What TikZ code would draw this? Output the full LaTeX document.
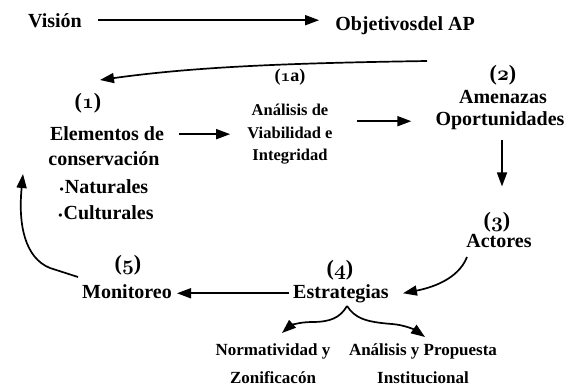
\documentclass[tikz,border=0pt]{standalone}
\usepackage{fontspec}
\setmainfont{Liberation Serif}
\usetikzlibrary{arrows.meta}
\newcommand{\osn}[1]{{\usefont{OML}{cmm}{b}{it}#1}}
\newcommand{\bul}{{\fontsize{12}{12}\selectfont\textbullet}\hspace{1pt}}
\tikzset{
  lbl/.style={inner sep=0pt, anchor=base, font=\bfseries\fontsize{20}{24}\selectfont},
  num/.style={inner sep=0pt, anchor=base, font=\bfseries\fontsize{22}{24}\selectfont},
  sml/.style={inner sep=0pt, anchor=base, font=\bfseries\fontsize{16.5}{20}\selectfont},
  bot/.style={inner sep=0pt, anchor=base, font=\bfseries\fontsize{17}{20}\selectfont},
  conn/.style={line width=1.7pt, -{Triangle[length=14pt,width=10pt]}},
}
\begin{document}
\begin{tikzpicture}[x=1pt,y=-1pt]
\useasboundingbox (0,0) rectangle (567,391);
\node[lbl] (vis) at (55,27) {Visión};
\node[lbl] (obj) at (405,30) {Objetivosdel AP};
\node[sml, font=\bfseries\fontsize{18}{20}\selectfont] (n1a) at (290,81) {(\osn{1}a)};
\node[sml] (ana1) at (290,115) {Análisis de};
\node[sml] (ana2) at (290,138) {Viabilidad e};
\node[sml] (ana3) at (290,160) {Integridad};
\node[num] (n2) at (503,80) {(\osn{2})};
\node[lbl] (ame) at (503,103) {Amenazas};
\node[lbl] (opo) at (500,125) {Oportunidades};
\node[num] (n1) at (88,108) {(\osn{1})};
\node[lbl] (ele) at (107,140) {Elementos de};
\node[lbl] (con) at (104,165) {conservación};
\node[lbl] (nat) at (104,193) {\bul Naturales};
\node[lbl] (cul) at (106,219) {\bul Culturales};
\node[num] (n3) at (497,227) {(\osn{3})};
\node[lbl] (act) at (499,247) {Actores};
\node[num] (n5) at (128,270) {(\osn{5})};
\node[lbl] (mon) at (127,298) {Monitoreo};
\node[num] (n4) at (340,275) {(\osn{4})};
\node[lbl] (est) at (341,298) {Estrategias};
\node[bot] (nor1) at (273,355) {Normatividad y};
\node[bot] (nor2) at (273,383) {Zonificacón};
\node[bot] (pro1) at (423,355) {Análisis y Propuesta};
\node[bot] (pro2) at (423,383) {Institucional};
\coordinate (objs) at (427,61);
\coordinate (apex) at (347,306);
\coordinate (lt) at (282,333);
\coordinate (rt) at (425,337);
\draw[conn] ([xshift=16pt]vis.east) -- ([xshift=-16pt]vis.east -| obj.west);
\draw[conn] (objs) .. controls (300,63) and (200,66) .. (100,80);
\draw[conn] ([xshift=15pt,yshift=-1pt]ele.east) -- ([xshift=66pt,yshift=-1pt]ele.east);
\draw[conn] ([xshift=-78pt,yshift=-1pt]opo.west) -- ([xshift=-24pt,yshift=-1pt]opo.west);
\draw[conn] ([xshift=2pt,yshift=-11pt]opo.south) -- ([xshift=2pt,yshift=-57pt]opo.south);
\draw[conn] (467,257) .. controls (458,280) and (430,288) .. ([xshift=14pt]est.east);
\draw[conn] ([xshift=-4pt]est.west) -- ([xshift=5pt]est.west -| mon.east);
\draw[conn] (78,277) -- (50,268) .. controls (25,258) and (18,225) .. (23,174);
\draw[conn] (apex) .. controls (340,318) and (330,322) .. (312,322) .. controls (298,322) and (290,326) .. (lt);
\draw[conn] (apex) .. controls (355,318) and (365,322) .. (392,324) .. controls (405,325) and (415,330) .. (rt);
\end{tikzpicture}
\end{document}
